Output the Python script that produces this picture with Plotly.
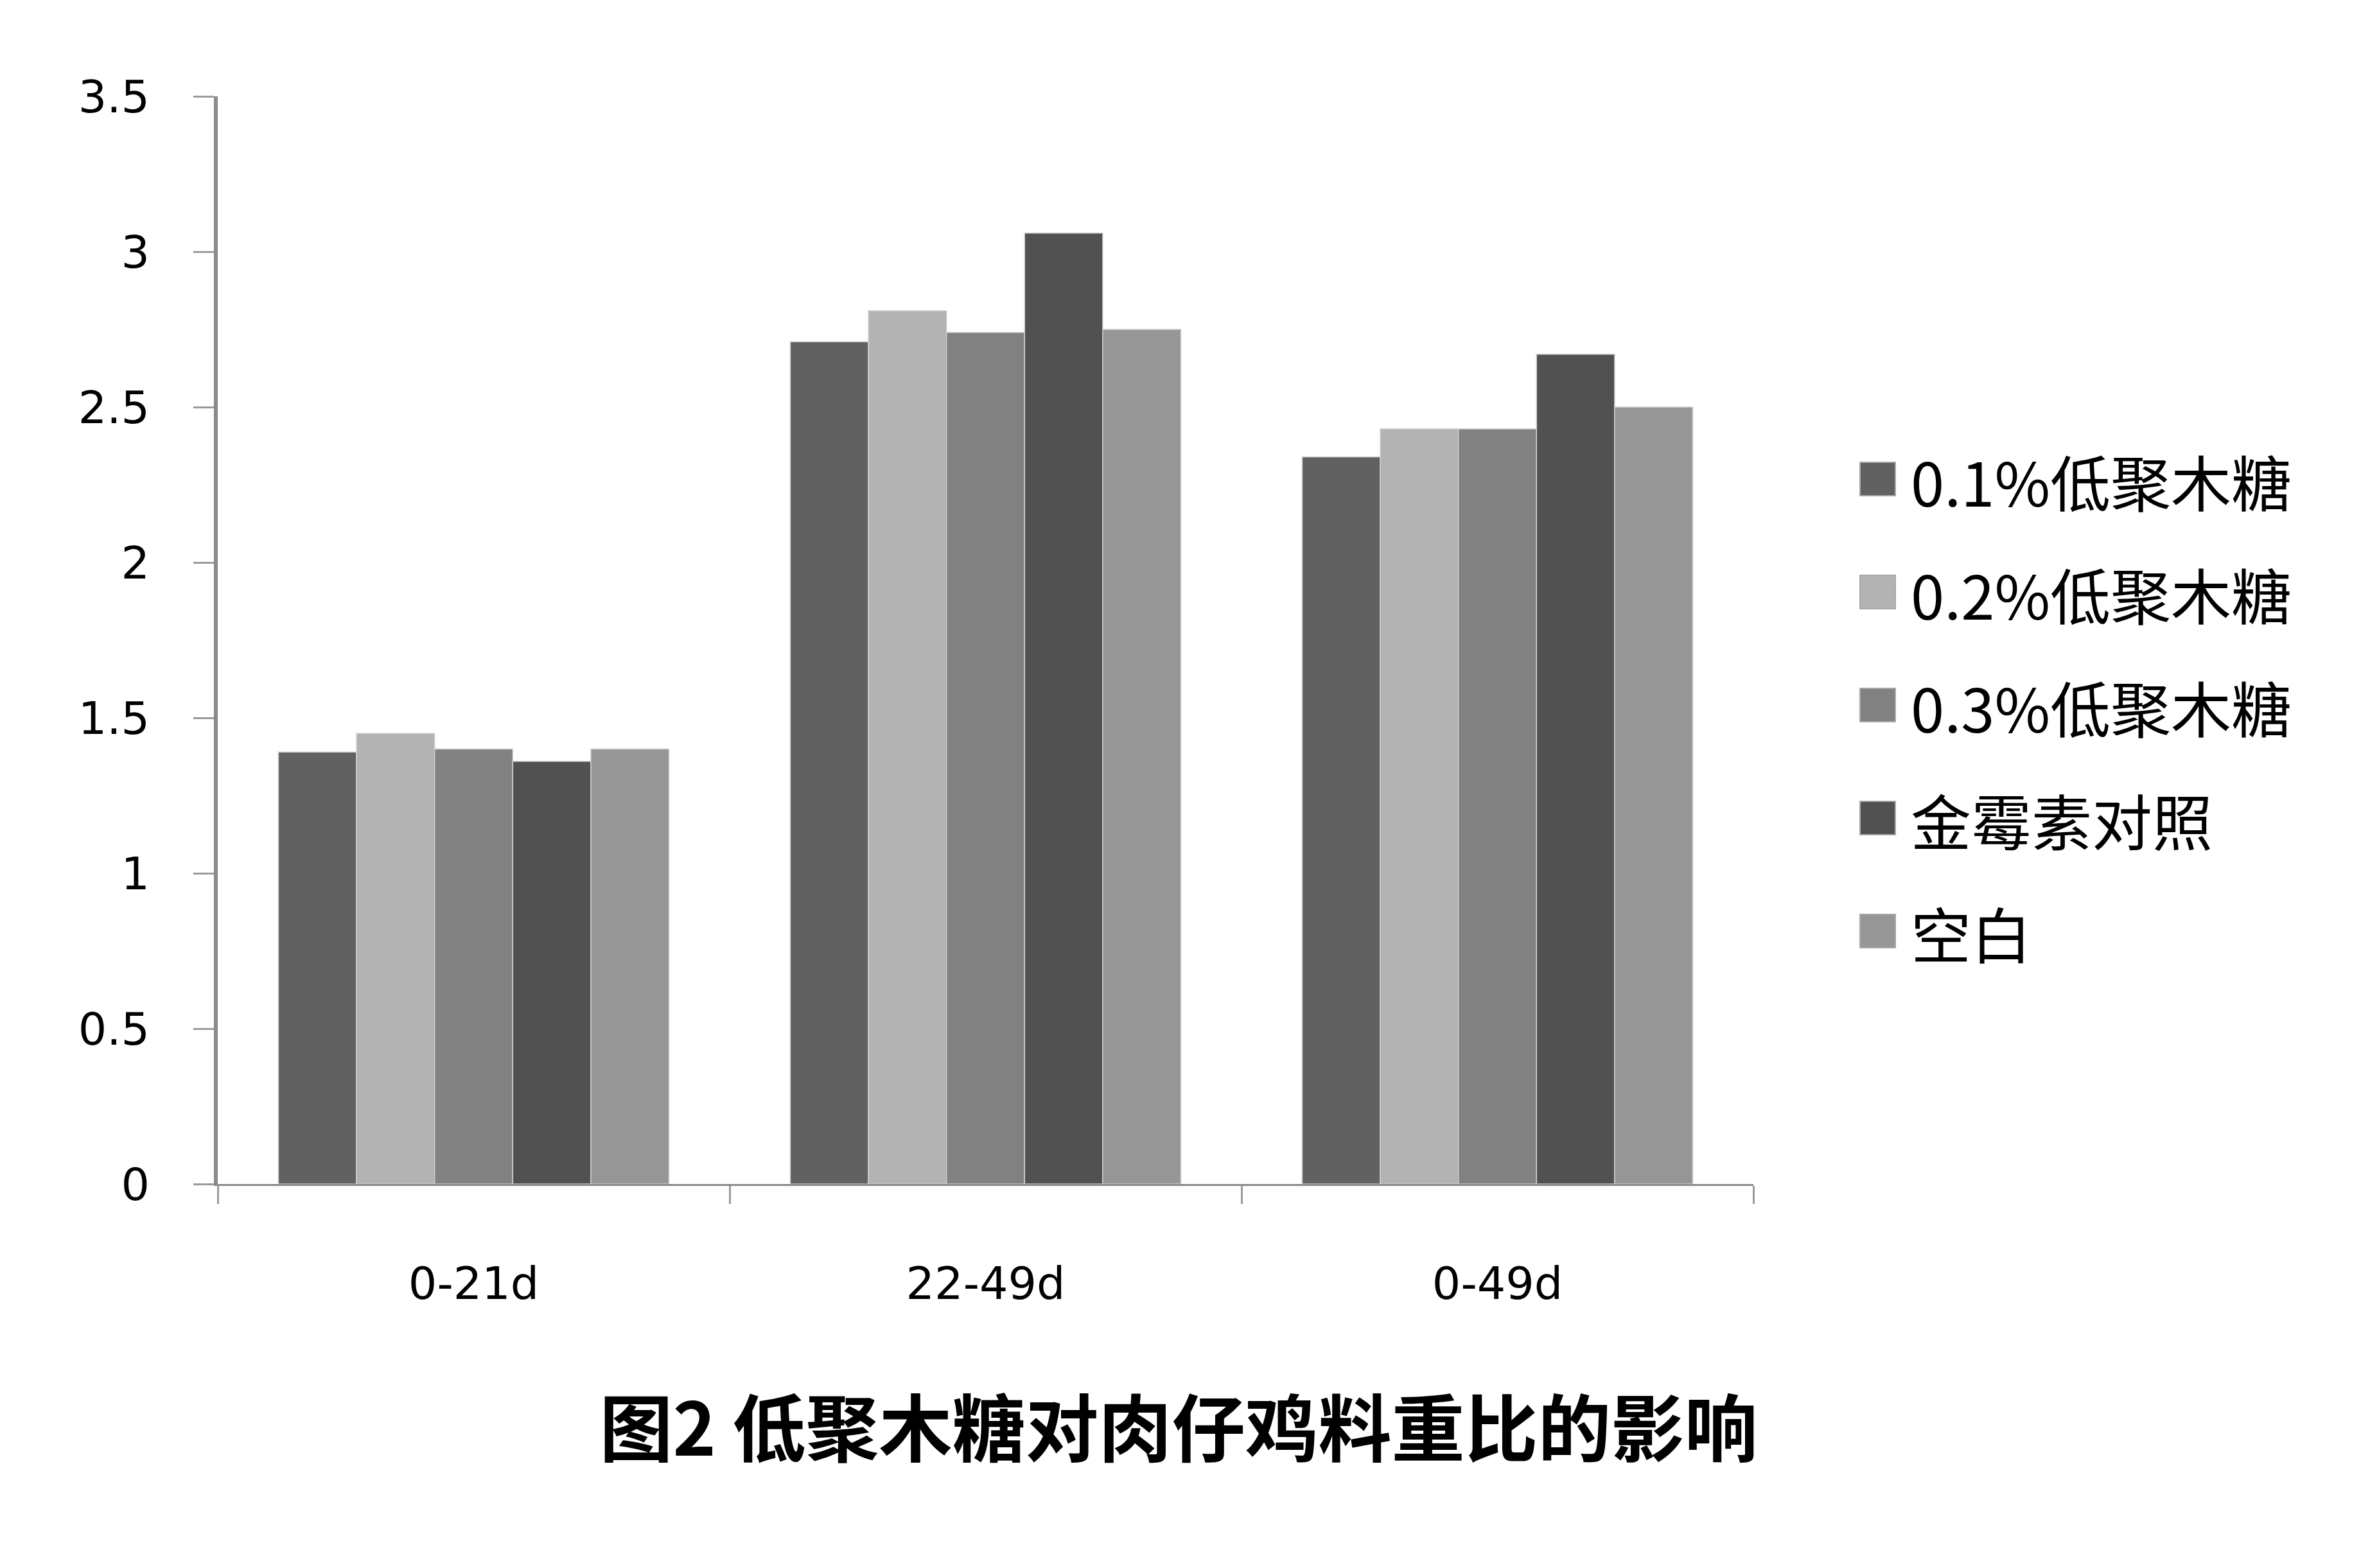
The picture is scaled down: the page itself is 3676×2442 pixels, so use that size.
import plotly.graph_objects as go

categories = ["0-21d", "22-49d", "0-49d"]
series_names = ["0.1%低聚木糖", "0.2%低聚木糖", "0.3%低聚木糖", "金霉素对照", "空白"]
v_01 = [1.39, 2.71, 2.34]
v_02 = [1.45, 2.81, 2.43]
v_03 = [1.40, 2.74, 2.43]
v_jms = [1.36, 3.06, 2.67]
v_blank = [1.40, 2.75, 2.50]
series_values = [v_01, v_02, v_03, v_jms, v_blank]
colors = ["#616161", "#b3b3b3", "#818181", "#515151", "#969696"]
title_text = "图2 低聚木糖对肉仔鸡料重比的影响"
y_ticks = [0, 0.5, 1, 1.5, 2, 2.5, 3, 3.5]

OFF = 8  # page body margin
W, H = 3676 - OFF, 2442 - OFF
X0, X1, Y0, Y1 = 339 - OFF, 2730 - OFF, 150 - OFF, 1844 - OFF   # plot area in pixels
L, R, T, B = X0, W - X1, Y0, H - Y1


def px_x(p):
    return (p - OFF - X0) / (X1 - X0)


def px_y(p):
    return (Y1 - (p - OFF)) / (Y1 - Y0)


fig = go.Figure()
for i, (name, vals, col) in enumerate(zip(series_names, series_values, colors)):
    fig.add_trace(go.Bar(
        x=categories, y=vals, name=name, showlegend=False,
        marker=dict(color=col, line=dict(color="#d0d0d0", width=1.5)),
    ))

# legend key beside the plot, large squares like the original
leg_top, leg_step = 746, 176
for i, (name, col) in enumerate(zip(series_names, colors)):
    cy = leg_top + i * leg_step
    fig.add_shape(type="rect", xref="paper", yref="paper",
                  x0=px_x(2896), x1=px_x(2951), y0=px_y(cy + 26), y1=px_y(cy - 26),
                  fillcolor=col, line=dict(color="#a8a8a8", width=2))
    fig.add_annotation(xref="paper", yref="paper", x=px_x(2973), y=px_y(cy + 2),
                       xanchor="left", yanchor="middle", showarrow=False, text=name,
                       font=dict(family="Noto Sans CJK SC", size=94, color="#000000"))

fig.update_layout(
    width=W, height=H,
    margin=dict(l=L, r=R, t=T, b=B, autoexpand=False),
    paper_bgcolor="white", plot_bgcolor="white",
    barmode="group", bargap=0.237, bargroupgap=0,
    font=dict(family="DejaVu Sans, Noto Sans CJK SC", size=68, color="#000000"),
    title=dict(
        text="<b>" + title_text + "</b>",
        x=(1835 - OFF) / W, xanchor="center", xref="container",
        y=1 - (2227 - OFF) / H, yanchor="middle", yref="container",
        font=dict(family="Noto Sans CJK SC", size=114, color="#000000"),
    ),
    showlegend=False,
)

fig.update_xaxes(
    showline=True, linecolor="#8a8a8a", linewidth=3,
    ticks="outside", tickson="boundaries", ticklen=28, tickwidth=3, tickcolor="#9a9a9a",
    showgrid=False, ticklabelstandoff=92,
    tickfont=dict(family="DejaVu Sans", size=70, color="#000000"),
)
fig.update_yaxes(
    range=[0, 3.5], tickvals=y_ticks, ticktext=[f"{v:g}" for v in y_ticks],
    showline=True, linecolor="#8a8a8a", linewidth=6,
    ticks="outside", ticklen=32, tickwidth=3, tickcolor="#9a9a9a",
    showgrid=False, zeroline=False, ticklabelstandoff=54,
    tickfont=dict(family="DejaVu Sans", size=70, color="#000000"),
)

fig.write_html("out.html")
